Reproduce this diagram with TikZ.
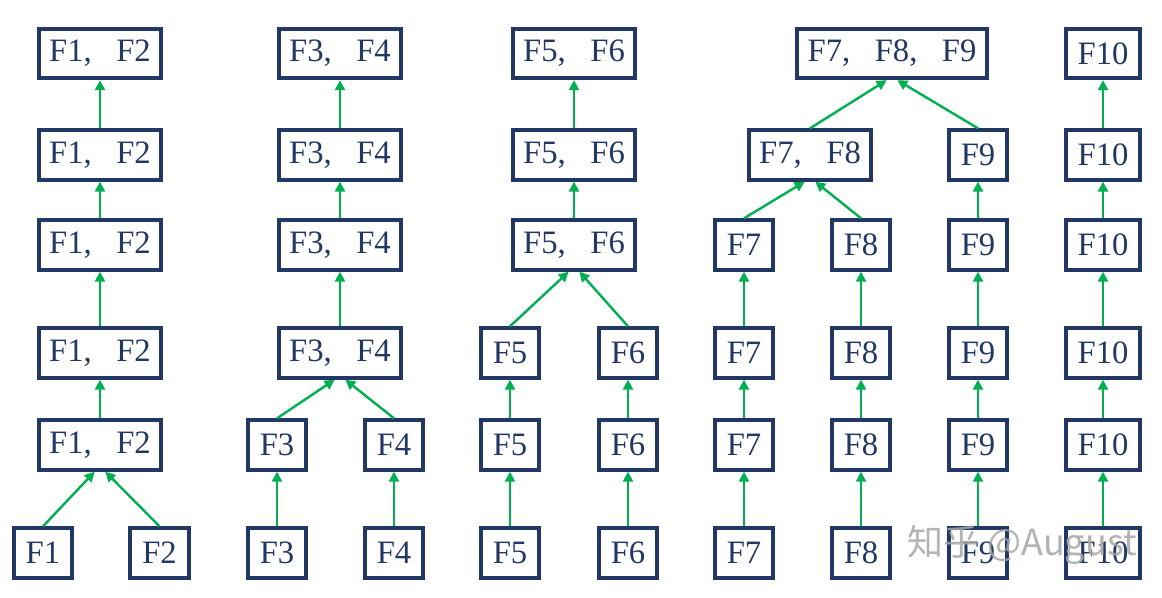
\documentclass[tikz,border=0pt]{standalone}
\usepackage{fontspec}
\setmainfont{Liberation Serif}
\newfontfamily\cjk{Noto Sans CJK SC}
\usetikzlibrary{arrows.meta}
\definecolor{navy}{RGB}{34,56,100}
\definecolor{grn}{RGB}{0,176,80}
\newcommand{\fwc}{,\hspace{0.75em}}
\begin{document}
\begin{tikzpicture}[x=0.75pt,y=-0.75pt,
  box/.style={draw=navy, line width=3pt, fill=white, font=\fontsize{24.5}{28}\selectfont, text=navy, minimum height=37pt, inner sep=0pt},
  big/.style={box, minimum width=92pt},
  sm/.style={box, minimum width=44pt},
  wide/.style={box, minimum width=55.5pt},
  huge/.style={box, minimum width=142.5pt},
  ar/.style={draw=grn, line width=1.8pt, -{Triangle[length=7.5pt,width=7.5pt]}}]
\useasboundingbox (0,0) rectangle (1162,598);
\def\ra{53.5}\def\rb{155}\def\rc{245}\def\rd{353}\def\re{445}\def\rf{553}
% column 1
\node[big] (A1) at (100,\ra) {F1\fwc F2};
\node[big] (A2) at (100,\rb) {F1\fwc F2};
\node[big] (A3) at (100,\rc) {F1\fwc F2};
\node[big] (A4) at (100,\rd) {F1\fwc F2};
\node[big] (A5) at (100,\re) {F1\fwc F2};
\node[sm] (a1) at (43,\rf) {F1};
\node[sm] (a2) at (159.5,\rf) {F2};
\draw[ar] (A2) -- (A1);
\draw[ar] (A3) -- (A2);
\draw[ar] (A4) -- (A3);
\draw[ar] (A5) -- (A4);
\draw[ar] (a1.north) -- ([xshift=-4pt]A5.south);
\draw[ar] (a2.north) -- ([xshift=4pt]A5.south);
% column 2
\node[big] (B1) at (340,\ra) {F3\fwc F4};
\node[big] (B2) at (340,\rb) {F3\fwc F4};
\node[big] (B3) at (340,\rc) {F3\fwc F4};
\node[big] (B4) at (340,\rd) {F3\fwc F4};
\node[sm] (b1) at (277,\re) {F3};
\node[sm] (b2) at (394,\re) {F4};
\node[sm] (b3) at (277,\rf) {F3};
\node[sm] (b4) at (394,\rf) {F4};
\draw[ar] (B2) -- (B1);
\draw[ar] (B3) -- (B2);
\draw[ar] (B4) -- (B3);
\draw[ar] (b1.north) -- ([xshift=-4pt]B4.south);
\draw[ar] (b2.north) -- ([xshift=4pt]B4.south);
\draw[ar] (b3) -- (b1);
\draw[ar] (b4) -- (b2);
% column 3
\node[big] (C1) at (574,\ra) {F5\fwc F6};
\node[big] (C2) at (574,\rb) {F5\fwc F6};
\node[big] (C3) at (574,\rc) {F5\fwc F6};
\node[sm] (c1) at (510,\rd) {F5};
\node[sm] (c2) at (628,\rd) {F6};
\node[sm] (c3) at (510,\re) {F5};
\node[sm] (c4) at (628,\re) {F6};
\node[sm] (c5) at (510,\rf) {F5};
\node[sm] (c6) at (628,\rf) {F6};
\draw[ar] (C2) -- (C1);
\draw[ar] (C3) -- (C2);
\draw[ar] (c1.north) -- ([xshift=-4pt]C3.south);
\draw[ar] (c2.north) -- ([xshift=4pt]C3.south);
\draw[ar] (c3) -- (c1);
\draw[ar] (c4) -- (c2);
\draw[ar] (c5) -- (c3);
\draw[ar] (c6) -- (c4);
% column 4
\node[huge] (D1) at (892,\ra) {F7\fwc F8\fwc F9};
\node[big] (D2) at (810,\rb) {F7\fwc F8};
\node[sm] (n1) at (978,\rb) {F9};
\node[sm] (n2) at (978,\rc) {F9};
\node[sm] (n3) at (978,\rd) {F9};
\node[sm] (n4) at (978,\re) {F9};
\node[sm] (n5) at (978,\rf) {F9};
\node[sm] (s1) at (744,\rc) {F7};
\node[sm] (s2) at (744,\rd) {F7};
\node[sm] (s3) at (744,\re) {F7};
\node[sm] (s4) at (744,\rf) {F7};
\node[sm] (e1) at (861,\rc) {F8};
\node[sm] (e2) at (861,\rd) {F8};
\node[sm] (e3) at (861,\re) {F8};
\node[sm] (e4) at (861,\rf) {F8};
\draw[ar] (D2.north) -- ([xshift=-4pt]D1.south);
\draw[ar] (n1.north) -- ([xshift=4pt]D1.south);
\draw[ar] (s1.north) -- ([xshift=-4pt]D2.south);
\draw[ar] (e1.north) -- ([xshift=4pt]D2.south);
\draw[ar] (n2) -- (n1);
\draw[ar] (n3) -- (n2);
\draw[ar] (n4) -- (n3);
\draw[ar] (n5) -- (n4);
\draw[ar] (s2) -- (s1);
\draw[ar] (s3) -- (s2);
\draw[ar] (s4) -- (s3);
\draw[ar] (e2) -- (e1);
\draw[ar] (e3) -- (e2);
\draw[ar] (e4) -- (e3);
% column 5
\node[wide] (t1) at (1103,\ra) {F10};
\node[wide] (t2) at (1103,\rb) {F10};
\node[wide] (t3) at (1103,\rc) {F10};
\node[wide] (t4) at (1103,\rd) {F10};
\node[wide] (t5) at (1103,\re) {F10};
\node[wide] (t6) at (1103,\rf) {F10};
\draw[ar] (t2) -- (t1);
\draw[ar] (t3) -- (t2);
\draw[ar] (t4) -- (t3);
\draw[ar] (t5) -- (t4);
\draw[ar] (t6) -- (t5);
% watermark
\node[text=gray!70, opacity=0.85, font=\cjk\fontsize{27}{30}\selectfont, inner sep=0pt] (wm) at (1022,545) {知乎 @August};
\end{tikzpicture}
\end{document}
